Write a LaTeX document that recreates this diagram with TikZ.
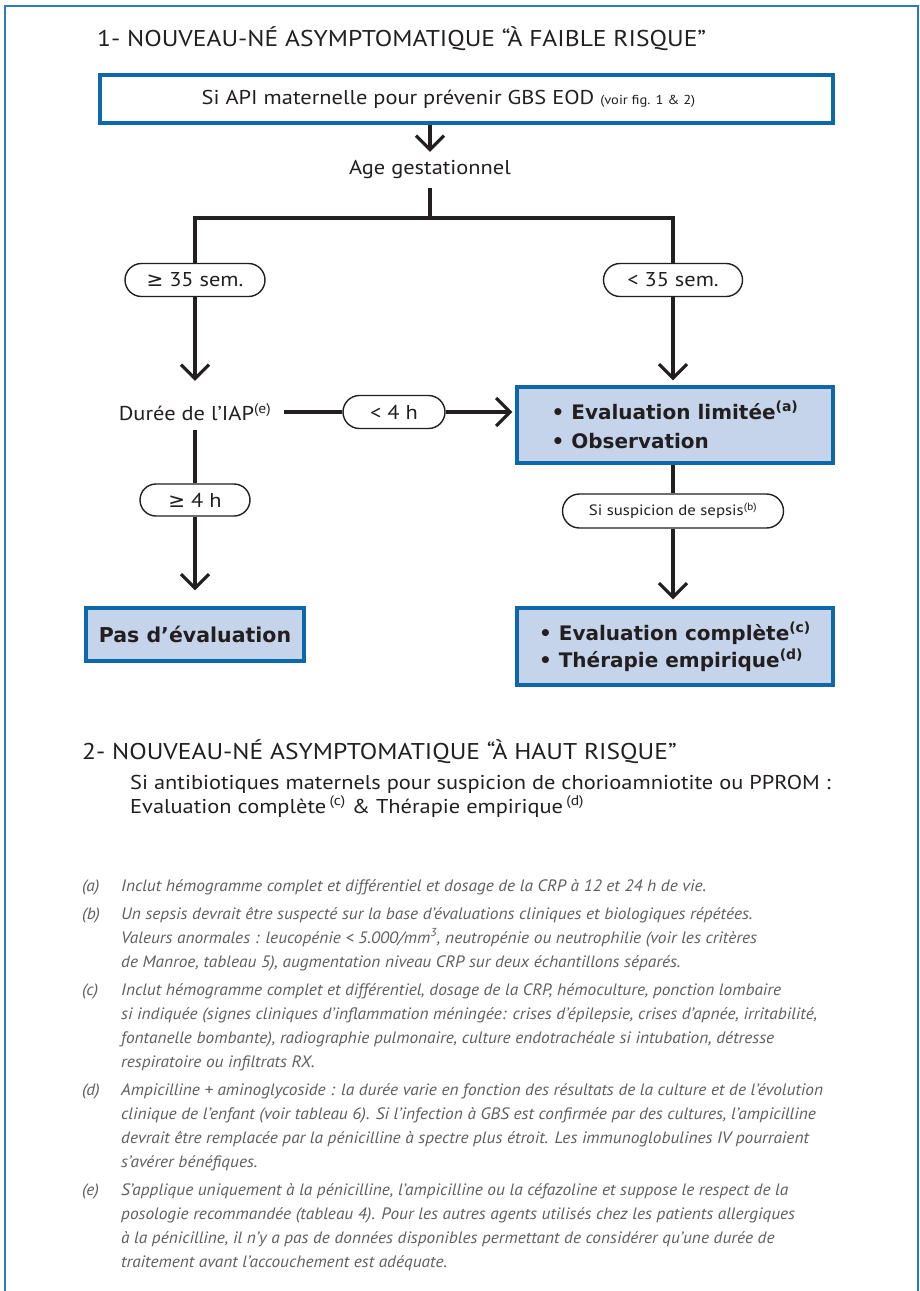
\documentclass[tikz,border=0pt]{standalone}
\usepackage{fontspec}
\setmainfont{PT Sans}[FakeStretch=1.12]
\newfontfamily\symf{DejaVu Sans}
\newfontfamily\heavyf{DejaVu Sans}
\newfontfamily\notef[FakeStretch=1.05]{PT Sans}
\usetikzlibrary{arrows.meta,shapes.misc}
\definecolor{frameblue}{RGB}{40,125,190}
\definecolor{boxblue}{RGB}{12,104,170}
\definecolor{boxfill}{RGB}{197,212,234}
\definecolor{ink}{RGB}{35,31,32}
\definecolor{notegray}{RGB}{95,95,95}
\tikzset{
  ln/.style={draw=ink, line width=3.2pt},
  arr/.style={ln, -{Straight Barb[length=14pt,width=28pt,line width=3.2pt]}},
  pill/.style={draw=ink, line width=1.4pt, rounded rectangle, fill=white, minimum height=33pt, inner sep=0pt, text=ink, font=\fontsize{20}{24}\selectfont},
  bluebox/.style={draw=boxblue, line width=3.2pt, fill=boxfill, inner sep=0pt, text=ink},
  plain/.style={inner sep=0pt, text=ink},
  headfont/.style={font=\fontsize{22.8}{27}\selectfont},
  bodyfont/.style={font=\fontsize{20}{24}\selectfont},
  note/.style={inner sep=0pt, anchor=base west, text=notegray, font=\notef\itshape\fontsize{16.5}{24}\selectfont},
}
\begin{document}
\begin{tikzpicture}[x=1pt,y=-1pt]
\useasboundingbox (0,0) rectangle (919,1291);
\fill[white] (0,0) rectangle (919,1291);
\draw[draw=frameblue, line width=2.2pt] (5,1292) -- (5,6) -- (918,6) -- (918,1292);

% Section 1
\node[plain, anchor=west, headfont] (t1) at (97,39) {1- NOUVEAU-NÉ ASYMPTOMATIQUE “À FAIBLE RISQUE”};

\node[bluebox, fill=white, minimum width=733pt, minimum height=48pt, bodyfont] (top) at (466.5,99)
  {Si API maternelle pour prévenir GBS EOD {\fontsize{13}{15}\selectfont (voir fig. 1 \& 2)}\hspace*{36pt}};

\node[plain, minimum height=36pt, bodyfont] (age) at (430,170) {Age gestationnel};
\draw[arr] (top.south -| age.north) -- (age.north);

\coordinate (split) at (430,218);
\node[pill, minimum width=140pt] (ge35) at (195,280) {{\symf ≥} 35 sem.};
\node[pill, minimum width=139pt] (lt35) at (673,280) {< 35 sem.};
\draw[ln] (age.south) -- (split);
\draw[ln] (ge35.north) -- (ge35.north |- split) -- (lt35.north |- split) -- (lt35.north);

\node[plain, minimum width=178pt, minimum height=36pt, bodyfont] (duree) at (195,412) {Durée de l’IAP\textsuperscript{(e)}};
\draw[arr, shorten >=13pt] (ge35.south) -- (duree.north);

\node[pill, minimum width=102pt] (lt4) at (394,412) {< 4 h};
\draw[ln] (duree.east) -- (lt4.west);

\node[bluebox, minimum width=316pt, minimum height=76pt, align=left, font=\heavyf\bfseries\fontsize{20}{29}\selectfont] (box1) at (675,425)
  {• Evaluation limitée\textsuperscript{(a)}\\• Observation};
\draw[arr, shorten >=3pt] (lt4.east) -- (lt4.east -| box1.west);
\draw[arr, shorten >=5pt] (lt35.south) -- (lt35.south |- box1.north);

\node[pill, minimum width=221pt, minimum height=34pt, font=\fontsize{15}{18}\selectfont] (sepsis) at (673,511) {Si suspicion de sepsis\textsuperscript{(b)}};
\draw[ln] (box1.south -| sepsis.north) -- (sepsis.north);

\node[bluebox, minimum width=316pt, minimum height=77pt, align=left, font=\heavyf\bfseries\fontsize{20}{27}\selectfont] (box2) at (675,646.5)
  {• Evaluation complète\textsuperscript{(c)}\\• Thérapie empirique\textsuperscript{(d)}};
\draw[arr, shorten >=7pt] (sepsis.south) -- (sepsis.south |- box2.north);

\node[pill, minimum width=110pt, minimum height=32pt] (ge4) at (195,500) {{\symf ≥} 4 h};
\draw[ln] (duree.south) -- (ge4.north);

\node[bluebox, minimum width=218pt, minimum height=53pt, font=\heavyf\bfseries\fontsize{20.5}{24}\selectfont] (pas) at (195,634.5) {Pas d’évaluation};
\draw[arr, shorten >=16pt] (ge4.south) -- (pas.north);

% Section 2
\node[plain, anchor=west, headfont] (t2) at (82,752) {2- NOUVEAU-NÉ ASYMPTOMATIQUE “À HAUT RISQUE”};
\node[plain, anchor=west, align=left, bodyfont] (s2) at (130,796)
  {Si antibiotiques maternels pour suspicion de chorioamniotite ou PPROM :\\
   Evaluation complète\,\textsuperscript{(c)} \& Thérapie empirique\,\textsuperscript{(d)}};

% Footnotes
\node[note] (la) at (82,891) {(a)};
\node[note] (a1) at (121,891) {Inclut hémogramme complet et différentiel et dosage de la CRP à 12 et 24 h de vie.};

\node[note] (lb) at (82,919) {(b)};
\node[note] (b1) at (121,919) {Un sepsis devrait être suspecté sur la base d’évaluations cliniques et biologiques répétées.};
\node[note] (b2) at (121,943) {Valeurs anormales : leucopénie < 5.000/mm\textsuperscript{3}, neutropénie ou neutrophilie (voir les critères};
\node[note] (b3) at (121,967) {de Manroe, tableau 5), augmentation niveau CRP sur deux échantillons séparés.};

\node[note] (lc) at (82,995) {(c)};
\node[note] (c1) at (121,995) {Inclut hémogramme complet et différentiel, dosage de la CRP, hémoculture, ponction lombaire};
\node[note] (c2) at (121,1019) {si indiquée (signes cliniques d’inflammation méningée: crises d’épilepsie, crises d’apnée, irritabilité,};
\node[note] (c3) at (121,1043) {fontanelle bombante), radiographie pulmonaire, culture endotrachéale si intubation, détresse};
\node[note] (c4) at (121,1067) {respiratoire ou infiltrats RX.};

\node[note] (ld) at (82,1095) {(d)};
\node[note] (d1) at (121,1095) {Ampicilline + aminoglycoside : la durée varie en fonction des résultats de la culture et de l’évolution};
\node[note] (d2) at (121,1119) {clinique de l’enfant (voir tableau 6). Si l’infection à GBS est confirmée par des cultures, l’ampicilline};
\node[note] (d3) at (121,1143) {devrait être remplacée par la pénicilline à spectre plus étroit. Les immunoglobulines IV pourraient};
\node[note] (d4) at (121,1167) {s’avérer bénéfiques.};

\node[note] (le) at (82,1195) {(e)};
\node[note] (e1) at (121,1195) {S’applique uniquement à la pénicilline, l’ampicilline ou la céfazoline et suppose le respect de la};
\node[note] (e2) at (121,1219) {posologie recommandée (tableau 4). Pour les autres agents utilisés chez les patients allergiques};
\node[note] (e3) at (121,1243) {à la pénicilline, il n’y a pas de données disponibles permettant de considérer qu’une durée de};
\node[note] (e4) at (121,1267) {traitement avant l’accouchement est adéquate.};
\end{tikzpicture}
\end{document}
